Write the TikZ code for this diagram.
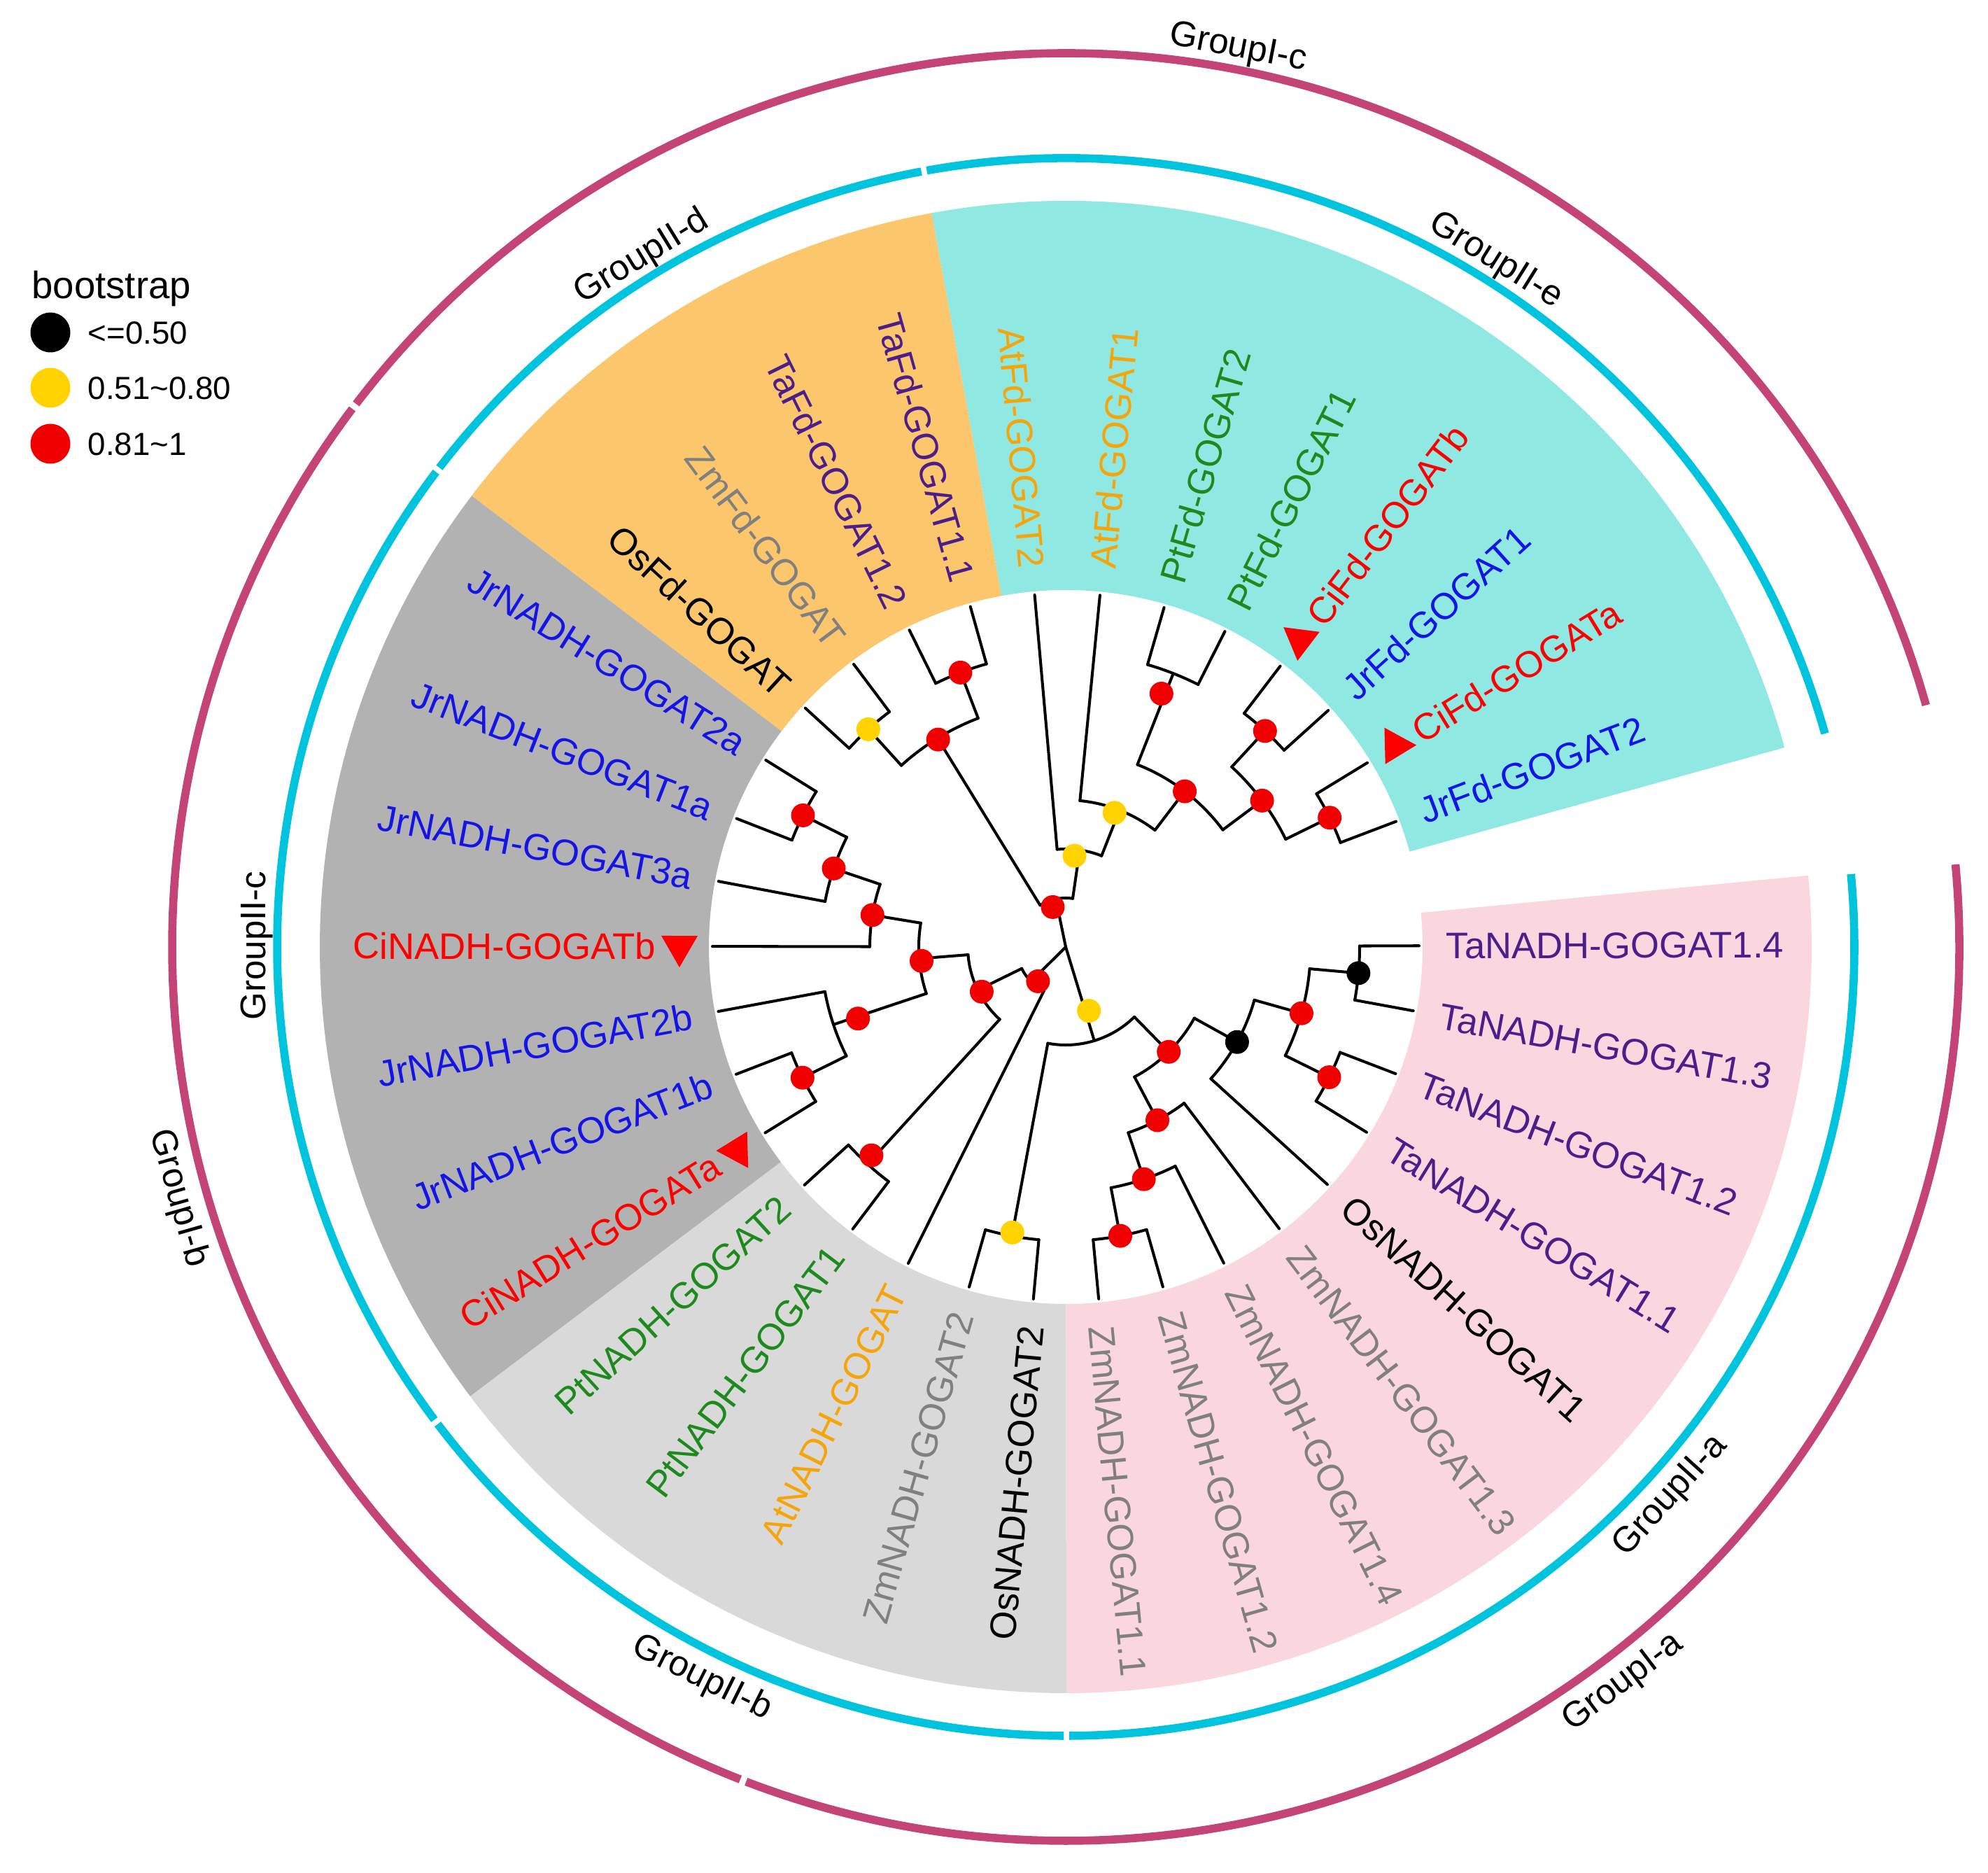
\documentclass[tikz,border=0pt]{standalone}
\usepackage{fontspec}
\setmainfont{Liberation Sans}
\usetikzlibrary{shapes.geometric}
\definecolor{tacol}{RGB}{75,30,140}
\definecolor{zmcol}{RGB}{128,128,128}
\definecolor{atcol}{RGB}{245,165,10}
\definecolor{ptcol}{RGB}{30,138,30}
\definecolor{jrcol}{RGB}{20,20,230}
\definecolor{cicol}{RGB}{255,0,0}
\definecolor{secpink}{RGB}{250,215,222}
\definecolor{seclgray}{RGB}{217,217,217}
\definecolor{secdgray}{RGB}{178,178,178}
\definecolor{secorange}{RGB}{252,198,108}
\definecolor{seccyan}{RGB}{143,232,226}
\definecolor{ringcyan}{RGB}{0,196,222}
\definecolor{ringmag}{RGB}{196,68,120}
\definecolor{dotred}{RGB}{240,0,0}
\definecolor{dotyel}{RGB}{255,210,0}
\tikzset{
  tl/.style={line width=1.15pt, black, line cap=round},
  leaflab/.style={font=\fontsize{15}{18}\selectfont, inner sep=0pt, text height=10.7pt, text depth=0pt},
  grplab/.style={font=\fontsize{14.5}{17}\selectfont, inner sep=0pt, text height=10.4pt, text depth=0pt, black},
  citri/.style={regular polygon, regular polygon sides=3, fill=cicol, draw=none, minimum size=0.6cm, inner sep=0pt},
  ringc/.style={line width=3.3pt, ringcyan},
  ringm/.style={line width=3.3pt, ringmag},
  legdot/.style={circle, inner sep=0pt, minimum size=0.57cm},
  legtxt/.style={font=\fontsize{13}{15}\selectfont, inner sep=0pt, anchor=west, text height=9.3pt, text depth=0pt}
}
\newcommand{\RL}[3]{\draw[tl] (#1:#2) -- (#1:#3);}
\newcommand{\AR}[3]{\draw[tl] (#2:#1) arc[start angle=#2, end angle=#3, radius=#1];}
\newcommand{\sector}[3]{\fill[#3] (#1:5.10) arc[start angle=#1, end angle=#2, radius=5.10] -- (#2:10.66) arc[start angle=#2, end angle=#1, radius=10.66] -- cycle;}
\newcommand{\leafR}[4]{\node[leaflab,text=#3,anchor=west,rotate=#1] (#4) at (#1:5.43) {#2};}
\newcommand{\leafL}[4]{\node[leaflab,text=#3,anchor=east,rotate=#1+180] (#4) at (#1:5.43) {#2};}
\newcommand{\ciR}[3]{\node[leaflab,text=cicol,anchor=west,rotate=#1] (#3) at (#1:5.85) {#2}; \node[citri,rotate=#1] (#3t) at (#1:5.52) {};}
\newcommand{\ciL}[3]{\node[leaflab,text=cicol,anchor=east,rotate=#1+180] (#3) at (#1:5.85) {#2}; \node[citri,rotate=#1] (#3t) at (#1:5.52) {};}
\newcommand{\bsdot}[3]{\fill[#3] (#1:#2) circle[radius=0.17];}
\begin{document}
\begin{tikzpicture}
\useasboundingbox (0,0) rectangle (28.41,26.75);
\fill[white] (0,0) rectangle (28.41,26.75);

% legend
\node[font=\fontsize{15.5}{18}\selectfont, inner sep=0pt, anchor=base west] (legtitle) at (0.45,22.48) {bootstrap};
\node[legdot, fill=black] (d1) at (0.72,22.00) {};
\node[legdot, fill=dotyel] (d2) at (0.72,21.21) {};
\node[legdot, fill=dotred] (d3) at (0.72,20.41) {};
\node[legtxt] (t1) at (1.25,22.00) {<=0.50};
\node[legtxt] (t2) at (1.25,21.21) {0.51\textasciitilde0.80};
\node[legtxt] (t3) at (1.25,20.41) {0.81\textasciitilde1};

\begin{scope}[shift={(15.23,13.22)}]
% sectors
\sector{5.503}{-89.951}{secpink}
\sector{-89.951}{-142.981}{seclgray}
\sector{-142.981}{-217.223}{secdgray}
\sector{-217.223}{-259.647}{secorange}
\sector{-259.647}{-344.495}{seccyan}

% rings
\draw[ringc] (5.30:11.27) arc[start angle=5.30, end angle=-89.75, radius=11.27];
\draw[ringc] (-90.15:11.27) arc[start angle=-90.15, end angle=-142.78, radius=11.27];
\draw[ringc] (-143.18:11.27) arc[start angle=-143.18, end angle=-217.02, radius=11.27];
\draw[ringc] (-217.42:11.27) arc[start angle=-217.42, end angle=-259.45, radius=11.27];
\draw[ringc] (-259.85:11.27) arc[start angle=-259.85, end angle=-344.3, radius=11.27];
\draw[ringm] (5.30:12.77) arc[start angle=5.30, end angle=-110.96, radius=12.77];
\draw[ringm] (-111.36:12.77) arc[start angle=-111.36, end angle=-217.02, radius=12.77];
\draw[ringm] (-217.42:12.77) arc[start angle=-217.42, end angle=-344.3, radius=12.77];

% group labels
\node[grplab,rotate=47.776] (gIIa) at (-42.224:11.62) {GroupII-a};
\node[grplab,rotate=-26.466] (gIIb) at (-116.466:11.62) {GroupII-b};
\node[grplab,rotate=89.898] (gIIc) at (-180.102:11.62) {GroupII-c};
\node[grplab,rotate=31.565] (gIId) at (121.565:11.62) {GroupII-d};
\node[grplab,rotate=-32.071] (gIIe) at (57.929:11.62) {GroupII-e};
\node[grplab,rotate=37.17] (gIa) at (-52.83:13.13) {GroupI-a};
\node[grplab,rotate=-74.193] (gIb) at (-164.193:13.13) {GroupI-b};
\node[grplab,rotate=-10.859] (gIc) at (79.141:13.13) {GroupI-c};

% tree: root
\RL{-135.192}{0}{0.70}
\RL{101.679}{0}{0.70}
\RL{-73.048}{0}{1.40}
% T
\AR{0.70}{-153.9185}{-116.466}
\RL{-116.466}{0.70}{5.05}
\RL{-153.9185}{0.70}{1.40}
% S
\AR{1.40}{-175.462}{-132.375}
\RL{-175.462}{1.40}{2.10}
\RL{-132.375}{1.40}{4.20}
\AR{4.20}{-137.678}{-127.072}
\RL{-137.678}{4.20}{5.05}
\RL{-127.072}{4.20}{5.05}
% dark gray clade
\AR{2.10}{-189.382}{-161.5415}
\RL{-189.382}{2.10}{2.80}
\RL{-161.5415}{2.10}{3.50}
\AR{3.50}{-169.496}{-153.587}
\RL{-169.496}{3.50}{5.05}
\RL{-153.587}{3.50}{4.20}
\AR{4.20}{-158.89}{-148.284}
\RL{-158.89}{4.20}{5.05}
\RL{-148.284}{4.20}{5.05}
\AR{2.80}{-198.6625}{-180.102}
\RL{-180.102}{2.80}{5.05}
\RL{-198.6625}{2.80}{3.50}
\AR{3.50}{-206.617}{-190.708}
\RL{-190.708}{3.50}{5.05}
\RL{-206.617}{3.50}{4.20}
\AR{4.20}{-211.92}{-201.314}
\RL{-211.92}{4.20}{5.05}
\RL{-201.314}{4.20}{5.05}
% X
\AR{1.40}{-100.557}{-45.538}
\RL{-100.557}{1.40}{4.20}
\RL{-45.538}{1.40}{2.10}
\AR{4.20}{-105.86}{-95.254}
\RL{-105.86}{4.20}{5.05}
\RL{-95.254}{4.20}{5.05}
\AR{2.10}{-62.110}{-28.9665}
\RL{-62.110}{2.10}{2.80}
\RL{-28.9665}{2.10}{2.80}
\AR{2.80}{-42.224}{-15.709}
\RL{-42.224}{2.80}{5.05}
\RL{-15.709}{2.80}{3.50}
\AR{3.50}{-26.315}{-5.103}
\RL{-26.315}{3.50}{4.20}
\RL{-5.103}{3.50}{4.20}
\AR{4.20}{-10.406}{0.2}
\RL{-10.406}{4.20}{5.05}
\RL{0.2}{4.20}{5.05}
\AR{4.20}{-31.618}{-21.012}
\RL{-31.618}{4.20}{5.05}
\RL{-21.012}{4.20}{5.05}
\AR{2.80}{-71.3905}{-52.83}
\RL{-52.83}{2.80}{5.05}
\RL{-71.3905}{2.80}{3.50}
\AR{3.50}{-79.345}{-63.436}
\RL{-63.436}{3.50}{5.05}
\RL{-79.345}{3.50}{4.20}
\AR{4.20}{-84.648}{-74.042}
\RL{-84.648}{4.20}{5.05}
\RL{-74.042}{4.20}{5.05}
% U
\AR{0.70}{81.7925}{121.565}
\RL{121.565}{0.70}{3.50}
\RL{81.7925}{0.70}{1.40}
\AR{3.50}{110.959}{132.171}
\RL{132.171}{3.50}{4.20}
\RL{110.959}{3.50}{4.20}
\AR{4.20}{126.868}{137.474}
\RL{137.474}{4.20}{5.05}
\RL{126.868}{4.20}{5.05}
\AR{4.20}{105.656}{116.262}
\RL{116.262}{4.20}{5.05}
\RL{105.656}{4.20}{5.05}
\AR{1.40}{68.535}{95.05}
\RL{95.05}{1.40}{5.05}
\RL{68.535}{1.40}{2.10}
\AR{2.10}{52.626}{84.444}
\RL{84.444}{2.10}{5.05}
\RL{52.626}{2.10}{2.80}
\AR{2.80}{36.717}{68.535}
\RL{68.535}{2.80}{4.20}
\RL{36.717}{2.80}{3.50}
\AR{4.20}{63.232}{73.838}
\RL{73.838}{4.20}{5.05}
\RL{63.232}{4.20}{5.05}
\AR{3.50}{26.111}{47.323}
\RL{47.323}{3.50}{4.20}
\RL{26.111}{3.50}{4.20}
\AR{4.20}{42.02}{52.626}
\RL{52.626}{4.20}{5.05}
\RL{42.02}{4.20}{5.05}
\AR{4.20}{20.808}{31.414}
\RL{31.414}{4.20}{5.05}
\RL{20.808}{4.20}{5.05}

% bootstrap dots
\bsdot{-5.1}{4.20}{black}
\bsdot{-15.7}{3.50}{dotred}
\bsdot{-26.3}{4.20}{dotred}
\bsdot{-29.0}{2.80}{black}
\bsdot{-45.5}{2.10}{dotred}
\bsdot{-62.1}{2.80}{dotred}
\bsdot{-71.4}{3.50}{dotred}
\bsdot{-79.3}{4.20}{dotred}
\bsdot{-70}{0.97}{dotyel}
\bsdot{-100.6}{4.15}{dotyel}
\bsdot{-133}{4.07}{dotred}
\bsdot{-153.6}{4.20}{dotred}
\bsdot{-161}{3.14}{dotred}
\bsdot{-206.6}{4.20}{dotred}
\bsdot{-198.7}{3.50}{dotred}
\bsdot{-189.4}{2.80}{dotred}
\bsdot{-174.5}{2.07}{dotred}
\bsdot{-152}{1.36}{dotred}
\bsdot{-129}{0.63}{dotred}
\bsdot{108}{0.60}{dotred}
\bsdot{84.5}{1.31}{dotyel}
\bsdot{70}{2.04}{dotyel}
\bsdot{52.6}{2.80}{dotred}
\bsdot{69.3}{3.87}{dotred}
\bsdot{36.7}{3.50}{dotred}
\bsdot{47.3}{4.20}{dotred}
\bsdot{26.1}{4.20}{dotred}
\bsdot{121.6}{3.48}{dotred}
\bsdot{132.2}{4.20}{dotyel}
\bsdot{111.0}{4.20}{dotred}

% leaf labels
\leafR{0.2}{TaNADH-GOGAT1.4}{tacol}{L0}
\leafR{-10.406}{TaNADH-GOGAT1.3}{tacol}{L1}
\leafR{-21.012}{TaNADH-GOGAT1.2}{tacol}{L2}
\leafR{-31.618}{TaNADH-GOGAT1.1}{tacol}{L3}
\leafR{-42.224}{OsNADH-GOGAT1}{black}{L4}
\leafR{-52.83}{ZmNADH-GOGAT1.3}{zmcol}{L5}
\leafR{-63.436}{ZmNADH-GOGAT1.4}{zmcol}{L6}
\leafR{-74.042}{ZmNADH-GOGAT1.2}{zmcol}{L7}
\leafR{-84.648}{ZmNADH-GOGAT1.1}{zmcol}{L8}
\leafL{-95.254}{OsNADH-GOGAT2}{black}{L9}
\leafL{-105.86}{ZmNADH-GOGAT2}{zmcol}{L10}
\leafL{-116.466}{AtNADH-GOGAT}{atcol}{L11}
\leafL{-127.072}{PtNADH-GOGAT1}{ptcol}{L12}
\leafL{-137.678}{PtNADH-GOGAT2}{ptcol}{L13}
\ciL{-148.284}{CiNADH-GOGATa}{L14}
\leafL{-158.89}{JrNADH-GOGAT1b}{jrcol}{L15}
\leafL{-169.496}{JrNADH-GOGAT2b}{jrcol}{L16}
\ciL{-180.102}{CiNADH-GOGATb}{L17}
\leafL{-190.708}{JrNADH-GOGAT3a}{jrcol}{L18}
\leafL{-201.314}{JrNADH-GOGAT1a}{jrcol}{L19}
\leafL{-211.92}{JrNADH-GOGAT2a}{jrcol}{L20}
\leafL{-222.526}{OsFd-GOGAT}{black}{L21}
\leafL{-233.132}{ZmFd-GOGAT}{zmcol}{L22}
\leafL{-243.738}{TaFd-GOGAT1.2}{tacol}{L23}
\leafL{-254.344}{TaFd-GOGAT1.1}{tacol}{L24}
\leafL{-264.95}{AtFd-GOGAT2}{atcol}{L25}
\leafR{-275.556}{AtFd-GOGAT1}{atcol}{L26}
\leafR{-286.162}{PtFd-GOGAT2}{ptcol}{L27}
\leafR{-296.768}{PtFd-GOGAT1}{ptcol}{L28}
\ciR{-307.374}{CiFd-GOGATb}{L29}
\leafR{-317.98}{JrFd-GOGAT1}{jrcol}{L30}
\ciR{-328.586}{CiFd-GOGATa}{L31}
\leafR{-339.192}{JrFd-GOGAT2}{jrcol}{L32}
\end{scope}
\end{tikzpicture}
\end{document}
